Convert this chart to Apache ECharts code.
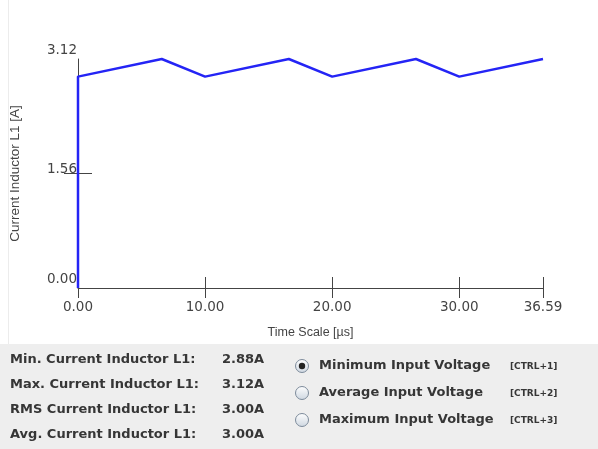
<!DOCTYPE html>
<html>
<head>
<meta charset="utf-8">
<script src="https://cdn.jsdelivr.net/npm/echarts@6/dist/echarts.min.js"></script>
<style>
html,body{margin:0;padding:0;background:#fff;}
#chart{width:598px;height:449px;}
</style>
</head>
<body>
<div id="chart"></div>
<script>
// ---- data ----
const timeValues = [0, 0, 6.59, 10, 16.59, 20, 26.59, 30, 36.59];
const currentValues = [0, 2.88, 3.12, 2.88, 3.12, 2.88, 3.12, 2.88, 3.12];
const xTickValues = [0, 10, 20, 30, 36.59];
const yTickValues = [0, 1.56, 3.12];
const yMidTick = [1.56];
const statLabels = ['Min. Current Inductor L1:', 'Max. Current Inductor L1:', 'RMS Current Inductor L1:', 'Avg. Current Inductor L1:'];
const statValues = ['2.88A', '3.12A', '3.00A', '3.00A'];
const voltageOptions = ['Minimum Input Voltage', 'Average Input Voltage', 'Maximum Input Voltage'];
const shortcutKeys = ['[CTRL+1]', '[CTRL+2]', '[CTRL+3]'];
const selectedOption = 0;

const chart = echarts.init(document.getElementById('chart'), null, {renderer: 'canvas'});
const seriesData = timeValues.map((t, i) => [t, currentValues[i]]);

const axisColor = '#444';
const textColor = '#363636';
const boldFont = 'DejaVu Sans';

const graphics = [
  {type: 'rect', shape: {x: 0, y: 344, width: 598, height: 105}, style: {fill: '#eeeeee'}, z: -10, silent: true},
  {type: 'line', shape: {x1: 8.5, y1: 0, x2: 8.5, y2: 344}, style: {stroke: '#ececec', lineWidth: 1}, z: -10, silent: true}
];
const statRows = [360, 385, 410, 435];
statLabels.forEach((lab, i) => {
  graphics.push({type: 'text', x: 10, y: statRows[i], style: {text: lab, font: 'bold 13px ' + boldFont, fill: textColor, verticalAlign: 'middle', align: 'left'}});
  graphics.push({type: 'text', x: 222, y: statRows[i], style: {text: statValues[i], font: 'bold 13px ' + boldFont, fill: textColor, verticalAlign: 'middle', align: 'left'}});
});
const radioRows = [366, 393, 420];
voltageOptions.forEach((opt, i) => {
  graphics.push({type: 'circle', shape: {cx: 302, cy: radioRows[i], r: 6.5},
    style: {fill: new echarts.graphic.LinearGradient(0, 0, 0, 1, [{offset: 0, color: '#ffffff'}, {offset: 1, color: '#cdd6e0'}]), stroke: '#7d8b9b', lineWidth: 1}});
  if (i === selectedOption) {
    graphics.push({type: 'circle', shape: {cx: 302, cy: radioRows[i], r: 3.2}, style: {fill: '#222'}});
  }
  graphics.push({type: 'text', x: 319, y: radioRows[i], style: {text: opt, font: 'bold 13px ' + boldFont, fill: textColor, verticalAlign: 'middle', align: 'left'}});
  graphics.push({type: 'text', x: 510, y: radioRows[i] + 1, style: {text: shortcutKeys[i], font: 'bold 9px ' + boldFont, fill: textColor, verticalAlign: 'middle', align: 'left'}});
});

const option = {
  backgroundColor: '#ffffff',
  animation: false,
  grid: {left: 76, right: 55, top: 59, bottom: 161, containLabel: false},
  xAxis: [
    {
      type: 'value', min: 0, max: 36.59, position: 'bottom',
      name: 'Time Scale [µs]', nameLocation: 'middle', nameGap: 38,
      nameTextStyle: {color: axisColor, fontSize: 12.5, fontFamily: 'Liberation Sans'},
      splitLine: {show: false},
      axisLine: {show: true, lineStyle: {color: axisColor, width: 1}},
      axisTick: {show: true, inside: false, length: 10, customValues: xTickValues, lineStyle: {color: axisColor}},
      axisLabel: {customValues: xTickValues, formatter: v => v.toFixed(2), color: axisColor, fontSize: 13.5, fontFamily: 'DejaVu Sans', margin: 12}
    },
    {
      type: 'value', min: 0, max: 36.59, position: 'bottom',
      splitLine: {show: false},
      axisLine: {show: false},
      axisTick: {show: true, inside: true, length: 11, customValues: xTickValues, lineStyle: {color: axisColor}},
      axisLabel: {show: false}
    }
  ],
  yAxis: [
    {
      type: 'value', min: 0, max: 3.12, position: 'left',
      name: 'Current Inductor L1 [A]', nameLocation: 'middle', nameGap: 56, nameRotate: 90,
      nameTextStyle: {color: axisColor, fontSize: 13.5, fontFamily: 'Liberation Sans'},
      splitLine: {show: false},
      axisLine: {show: true, lineStyle: {color: axisColor, width: 1}},
      axisTick: {show: true, inside: false, length: 14, customValues: yMidTick, lineStyle: {color: axisColor}},
      axisLabel: {
        customValues: yTickValues, margin: 1, color: axisColor, fontSize: 13.5, fontFamily: 'DejaVu Sans',
        verticalAlign: 'middle',
        formatter: v => (v === 1.56 ? '{m|' + v.toFixed(2) + '}' : '{e|' + v.toFixed(2) + '}'),
        rich: {
          e: {color: axisColor, fontSize: 13.5, fontFamily: 'DejaVu Sans', padding: [0, 0, 18, 0]},
          m: {color: axisColor, fontSize: 13.5, fontFamily: 'DejaVu Sans', padding: [0, 0, 8, 0]}
        }
      }
    },
    {
      type: 'value', min: 0, max: 3.12, position: 'left',
      splitLine: {show: false},
      axisLine: {show: false},
      axisTick: {show: true, inside: true, length: 14, customValues: yMidTick, lineStyle: {color: axisColor}},
      axisLabel: {show: false}
    }
  ],
  series: [{
    type: 'line', xAxisIndex: 0, yAxisIndex: 0, data: seriesData,
    symbol: 'none', clip: false,
    lineStyle: {color: '#2424f5', width: 2.5}
  }],
  graphic: graphics
};
chart.setOption(option);
</script>
</body>
</html>
